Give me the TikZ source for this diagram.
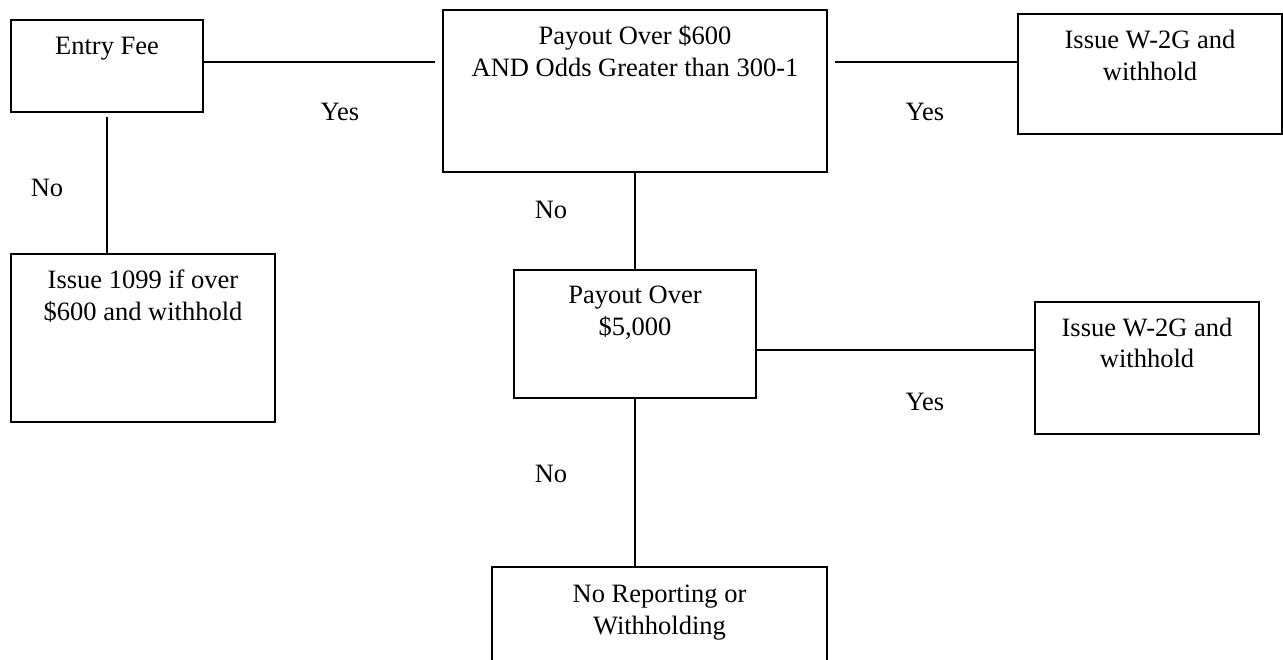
\documentclass[tikz,border=0pt]{standalone}
\usepackage{fontspec}
\setmainfont{Liberation Serif}
\begin{document}
\begin{tikzpicture}[x=1pt,y=1pt,
  box/.style={draw=black, line width=2pt, rectangle, inner sep=0pt},
  txt/.style={font=\fontsize{26.5}{32}\selectfont, align=center, inner sep=0pt, anchor=base},
  lab/.style={font=\fontsize{26.5}{32}\selectfont, inner sep=0pt, anchor=base},
  conn/.style={draw=black, line width=2pt}]
\useasboundingbox (0,0) rectangle (1283,-660);
\clip (0,0) rectangle (1283,-660);
% boxes
\node[box, minimum width=192pt, minimum height=92pt] (fee) at (107,-66) {};
\node[box, minimum width=384pt, minimum height=162pt] (p600) at (635,-91) {};
\node[box, minimum width=264pt, minimum height=120pt] (w2g1) at (1150,-74) {};
\node[box, minimum width=264pt, minimum height=168pt] (i1099) at (143,-338) {};
\node[box, minimum width=242pt, minimum height=128pt] (p5000) at (635,-334) {};
\node[box, minimum width=224pt, minimum height=132pt] (w2g2) at (1147,-368) {};
\node[box, minimum width=335pt, minimum height=140pt] (norep) at (659.5,-637) {};
% texts (anchor=base is the last line's baseline)
\node[txt] (tfee) at ([yshift=-36pt]fee.north) {Entry Fee};
\node[txt] (tp600) at ([yshift=-68pt]p600.north) {Payout Over \$600\\AND Odds Greater than 300-1};
\node[txt] (tw2g1) at ([yshift=-68pt]w2g1.north) {Issue W-2G and\\withhold};
\node[txt] (ti1099) at ([yshift=-68pt]i1099.north) {Issue 1099 if over\\\$600 and withhold};
\node[txt] (tp5000) at ([yshift=-67pt]p5000.north) {Payout Over\\\$5,000};
\node[txt] (tw2g2) at ([yshift=-67pt]w2g2.north) {Issue W-2G and\\withhold};
\node[txt] (tnorep) at ([yshift=-68pt]norep.north) {No Reporting or\\Withholding};
% connectors
\coordinate (c1) at (435,-62);
\draw[conn] (fee.east |- c1) -- (c1);
\coordinate (c2) at (835,-62);
\draw[conn] (c2) -- (c2 -| w2g1.west);
\coordinate (c3) at (107,-117);
\draw[conn] (c3) -- (c3 |- i1099.north);
\draw[conn] (p600.south) -- (p5000.north);
\coordinate (c4) at (756,-350);
\draw[conn] (c4) -- (c4 -| w2g2.west);
\draw[conn] (p5000.south) -- (p5000.south |- norep.north);
% labels
\node[lab] (yes1) at (340,-121) {Yes};
\node[lab] (yes2) at (925,-121) {Yes};
\node[lab] (no1) at (47,-197) {No};
\node[lab] (no2) at (551,-219) {No};
\node[lab] (yes3) at (925,-410) {Yes};
\node[lab] (no3) at (551,-482) {No};
\end{tikzpicture}
\end{document}
